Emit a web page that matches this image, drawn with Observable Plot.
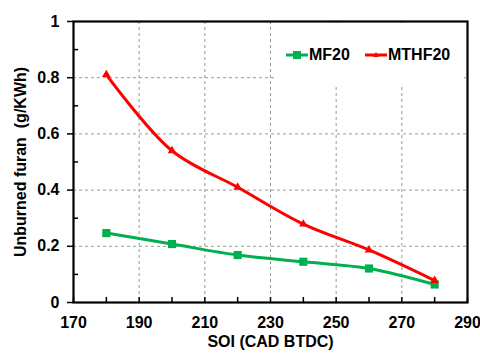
<!DOCTYPE html>
<html>
<head>
<meta charset="utf-8">
<script src="https://cdn.jsdelivr.net/npm/d3@7"></script>
<script src="https://cdn.jsdelivr.net/npm/@observablehq/plot@0.6"></script>
<style>
  html, body { margin: 0; padding: 0; background: #fff; }
  #wrap { position: relative; width: 480px; height: 354px; font-family: "Liberation Sans", Arial, sans-serif; }
  #legend { position: absolute; left: 274px; top: 23px; width: 190px; height: 64px; background: #fff;
            font-weight: bold; font-size: 16px; color: #000; }
  .item { position: absolute; top: 24px; display: flex; align-items: center; height: 16px; }
  .item svg { margin-right: 1px; }
</style>
</head>
<body>
<div id="wrap"></div>
<script>
// Start of injection (CAD BTDC)
const soi = [180, 200, 220, 240, 260, 280];
// Unburned furan emissions (g/kWh)
const mf20 = [0.247, 0.208, 0.169, 0.145, 0.121, 0.064];
const mthf20 = [0.811, 0.540, 0.410, 0.279, 0.187, 0.078];

const seriesNames = ["MF20", "MTHF20"];
const seriesColors = ["#00B050", "#FF0000"];

const xTicks = [170, 190, 210, 230, 250, 270, 290];
const xMinor = d3.range(170, 291, 10);
const yTicks = [0, 0.2, 0.4, 0.6, 0.8, 1];
const yMinor = [0.1, 0.3, 0.5, 0.7, 0.9];

const rows = soi.flatMap((s, i) => [
  {soi: s, value: mf20[i], series: "MF20"},
  {soi: s, value: mthf20[i], series: "MTHF20"}
]);
const mf = rows.filter(d => d.series === "MF20");
const mt = rows.filter(d => d.series === "MTHF20");

const chart = Plot.plot({
  width: 480,
  height: 354,
  marginLeft: 73,
  marginRight: 13,
  marginTop: 21,
  marginBottom: 52,
  style: {fontFamily: "Liberation Sans, Arial, sans-serif", fontWeight: "bold", fontSize: "16px", color: "#000"},
  x: {domain: [170, 290]},
  y: {domain: [0, 1]},
  marks: [
    Plot.gridX(xTicks.slice(1, -1), {stroke: "#999", strokeOpacity: 1, strokeDasharray: "3,3"}),
    Plot.gridY(yTicks.slice(1, -1), {stroke: "#999", strokeOpacity: 1, strokeDasharray: "3,3"}),
    Plot.frame({stroke: "#000", strokeOpacity: 1, strokeWidth: 2.2}),
    Plot.axisY(yTicks, {tickSize: 6, tickPadding: 8, fontSize: 16, tickFormat: d => d3.format("")(d), label: null, stroke: "#000", strokeOpacity: 1, strokeWidth: 1.5}),
    Plot.text(["Unburned furan  (g/KWh)"], {frameAnchor: "left", textAnchor: "middle", dx: -53, rotate: -90, fontSize: 16, fontWeight: "bold", fill: "#000"}),
    Plot.axisY(yMinor, {tickSize: -5, text: null, label: null, stroke: "#000", strokeOpacity: 1, strokeWidth: 1.5}),
    Plot.axisX(xMinor, {tickSize: -5, text: null, label: null, stroke: "#000", strokeOpacity: 1, strokeWidth: 1.5}),
    Plot.axisX(xTicks, {tickSize: 0, tickPadding: 14, fontSize: 16, label: null}),
    Plot.text(["SOI (CAD BTDC)"], {frameAnchor: "bottom", dy: 44, fontSize: 16, fontWeight: "bold", fill: "#000"}),
    Plot.line(mf, {x: "soi", y: "value", stroke: seriesColors[0], strokeWidth: 3, curve: "catmull-rom"}),
    Plot.dot(mf, {x: "soi", y: "value", symbol: "square", r: 4.6, fill: seriesColors[0]}),
    Plot.line(mt, {x: "soi", y: "value", stroke: seriesColors[1], strokeWidth: 3, curve: "catmull-rom"}),
    Plot.dot(mt, {x: "soi", y: "value", symbol: "triangle", r: 3.2, fill: seriesColors[1]})
  ]
});

const wrap = document.getElementById("wrap");
wrap.appendChild(chart);

// Legend overlay inside the plot area
const legend = document.createElement("div");
legend.id = "legend";
const legendLeft = [12, 91];
seriesNames.forEach((name, i) => {
  const item = document.createElement("div");
  item.className = "item";
  item.style.left = legendLeft[i] + "px";
  const marker = i === 0
    ? `<rect x="7" y="3" width="8" height="8" fill="${seriesColors[i]}"/>`
    : `<path d="M11,4 L14,9 L8,9 Z" fill="${seriesColors[i]}"/>`;
  item.innerHTML = `<svg width="22" height="14"><line x1="0" x2="22" y1="7" y2="7" stroke="${seriesColors[i]}" stroke-width="3"/>${marker}</svg><span>${name}</span>`;
  legend.appendChild(item);
});
wrap.appendChild(legend);
</script>
</body>
</html>
